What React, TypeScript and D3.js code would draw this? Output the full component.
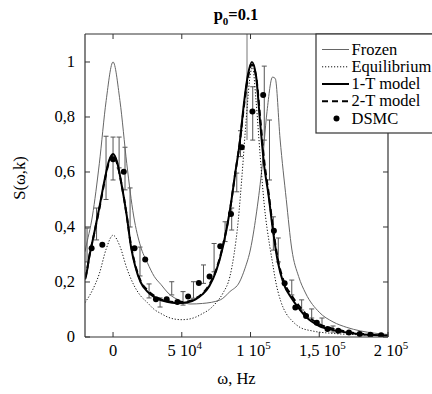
import React from "react";
import * as d3 from "d3";

// ---- data (x in Hz, y = S(omega,k)) ----
const frozenX = [-20400, -20000, -15000, -10000, -5000, 0, 5000, 10000, 15000, 20000, 25000, 30000, 35000, 40000, 50000, 56000, 65000, 78000, 85000, 92000, 96000, 100000, 104000, 108000, 112000, 116000, 118000, 121500, 126000, 130000, 135000, 140000, 150000, 160000, 170000, 180000, 190000, 200000];
const frozenY = [0.31, 0.32, 0.44, 0.63, 0.86, 1.0, 0.86, 0.63, 0.44, 0.33, 0.27, 0.22, 0.19, 0.16, 0.13, 0.12, 0.122, 0.135, 0.165, 0.2, 0.25, 0.32, 0.44, 0.6, 0.82, 0.945, 0.94, 0.72, 0.5, 0.32, 0.22, 0.16, 0.09, 0.055, 0.035, 0.022, 0.014, 0.009];

const equilX = [-20400, -20000, -15000, -10000, -5000, 0, 5000, 10000, 15000, 20000, 25000, 30000, 35000, 40000, 45000, 50000, 55000, 60000, 65000, 70000, 75000, 80000, 85000, 88000, 91000, 94000, 97000, 100000, 101500, 104000, 107000, 110000, 114000, 116000, 118000, 122000, 126000, 130000, 136000, 145000, 160000, 180000, 200000];
const equilY = [0.125, 0.128, 0.17, 0.23, 0.32, 0.37, 0.33, 0.25, 0.19, 0.15, 0.125, 0.1, 0.085, 0.072, 0.065, 0.063, 0.065, 0.072, 0.085, 0.1, 0.125, 0.16, 0.22, 0.3, 0.42, 0.6, 0.8, 0.96, 0.98, 0.86, 0.66, 0.48, 0.33, 0.27, 0.21, 0.13, 0.085, 0.06, 0.035, 0.022, 0.013, 0.008, 0.005];

const oneTX = [-20400, -20000, -17000, -14000, -10000, -6000, -3000, 0, 3000, 6000, 10000, 13000, 16000, 20000, 25000, 30000, 35000, 40000, 45000, 50000, 55000, 60000, 65000, 70000, 75000, 80000, 85000, 89000, 92000, 95000, 98000, 101000, 104000, 107000, 110000, 113000, 116000, 120000, 124000, 130000, 135000, 140000, 150000, 160000, 170000, 180000, 190000, 200000];
const oneTY = [0.21, 0.215, 0.3, 0.37, 0.47, 0.575, 0.64, 0.665, 0.635, 0.56, 0.44, 0.33, 0.26, 0.2, 0.165, 0.145, 0.133, 0.127, 0.124, 0.124, 0.127, 0.137, 0.155, 0.185, 0.24, 0.33, 0.46, 0.6, 0.7, 0.84, 0.95, 1.0, 0.95, 0.78, 0.62, 0.52, 0.4, 0.27, 0.195, 0.14, 0.105, 0.075, 0.04, 0.025, 0.016, 0.01, 0.007, 0.005];

const twoTX = [-20400, -20000, -17000, -14000, -10000, -6000, -3000, 0, 3000, 6000, 10000, 13000, 16000, 20000, 25000, 30000, 35000, 40000, 45000, 50000, 55000, 60000, 65000, 70000, 75000, 80000, 85000, 89000, 92000, 95000, 98000, 101000, 104000, 107000, 110000, 113000, 116000, 120000, 124000, 130000, 135000, 140000, 150000, 160000, 170000, 180000, 190000, 200000];
const twoTY = [0.215, 0.22, 0.3, 0.37, 0.465, 0.57, 0.635, 0.66, 0.63, 0.56, 0.44, 0.335, 0.265, 0.205, 0.17, 0.15, 0.137, 0.13, 0.127, 0.127, 0.13, 0.14, 0.158, 0.19, 0.245, 0.335, 0.46, 0.6, 0.7, 0.83, 0.94, 0.99, 0.95, 0.8, 0.64, 0.53, 0.41, 0.28, 0.205, 0.15, 0.115, 0.085, 0.047, 0.03, 0.019, 0.012, 0.008, 0.006];

const dsmcX = [-15600, -7800, 0, 7800, 15600, 23400, 31200, 39000, 46800, 54600, 62400, 70200, 78000, 85800, 93600, 101400, 109200, 117000, 124800, 132600, 140400, 148200, 156000, 163800, 171600, 179400, 187200, 195000];
const dsmcY = [0.323, 0.335, 0.646, 0.601, 0.323, 0.282, 0.137, 0.137, 0.127, 0.147, 0.196, 0.22, 0.33, 0.447, 0.69, 0.82, 0.88, 0.386, 0.195, 0.107, 0.076, 0.052, 0.029, 0.023, 0.016, 0.011, 0.008, 0.006];

const errX = [-18900, -12000, -5100, 0, 4400, 8700, 12400, 19600, 26200, 34200, 42700, 50900, 58500, 65800, 73500, 81500, 86300, 90000, 92700, 101600, 110000, 113800, 116600, 120200, 130000, 137200, 144500, 152000, 160000];
const errLo = [0.273, 0.353, 0.5, 0.571, 0.615, 0.535, 0.4, 0.222, 0.142, 0.109, 0.153, 0.116, 0.141, 0.195, 0.237, 0.347, 0.389, 0.528, 0.656, 0.716, 0.716, 0.571, 0.316, 0.273, 0.153, 0.098, 0.069, 0.04, 0.018];
const errHi = [0.396, 0.469, 0.73, 0.727, 0.727, 0.69, 0.542, 0.327, 0.193, 0.142, 0.201, 0.165, 0.201, 0.262, 0.34, 0.419, 0.469, 0.596, 0.75, 0.91, 0.985, 0.789, 0.437, 0.36, 0.207, 0.135, 0.102, 0.069, 0.04];

const yTicks = [0, 0.2, 0.4, 0.6, 0.8, 1];
const yTickLabels = ["0", "0,2", "0,4", "0,6", "0,8", "1"];
const xTicks = [0, 50000, 100000, 150000, 200000];
const xTickMain = ["0", "5 10", "1 10", "1,5 10", "2 10"];
const xTickExp = ["", "4", "5", "5", "5"];

const legendNames = ["Frozen", "Equilibrium", "1-T model", "2-T model", "DSMC"];

const FONT = "'Liberation Serif', 'Times New Roman', serif";

export default function App() {
  const W = 432, H = 394;
  const L = 85, R = 388, T = 34, B = 337;
  const x = d3.scaleLinear().domain([-20400, 200000]).range([L, R]);
  const y = d3.scaleLinear().domain([0, 1.1018]).range([B, T]);

  const mk = (xs: number[], ys: number[]) =>
    d3.line<number>().x((_, i) => x(xs[i])).y((_, i) => y(ys[i])).curve(d3.curveMonotoneX)(xs) || "";

  const frame = "#333";
  const legendRows = [49.5, 66.8, 84, 101.3, 118.5];
  const FS = 16.5;
  const ts = { fontFamily: FONT };

  return (
    <svg width={W} height={H} style={{ display: "block", position: "absolute", left: 0, top: 0, fontFamily: FONT }}>
      <rect x={0} y={0} width={W} height={H} fill="#fff" />
      <defs>
        <clipPath id="plotclip">
          <rect x={L} y={T} width={R - L} height={B - T} />
        </clipPath>
      </defs>

      <text x={236} y={20} textAnchor="middle" fontSize={16.5} fontWeight="bold" style={ts}>
        p<tspan fontSize={11} dy={5}>0</tspan><tspan dy={-5}>=0.1</tspan>
      </text>

      <g clipPath="url(#plotclip)">
        <line x1={247} x2={247} y1={T} y2={140} stroke="#777" strokeWidth={1} />
        {errX.map((v, i) => (
          <g key={"e" + i} stroke="#555" strokeWidth={1}>
            <line x1={x(v)} x2={x(v)} y1={y(errLo[i])} y2={y(errHi[i])} />
            <line x1={x(v) - 2.5} x2={x(v) + 2.5} y1={y(errLo[i])} y2={y(errLo[i])} />
            <line x1={x(v) - 2.5} x2={x(v) + 2.5} y1={y(errHi[i])} y2={y(errHi[i])} />
          </g>
        ))}
        <path d={mk(frozenX, frozenY)} fill="none" stroke="#666" strokeWidth={1} />
        <path d={mk(equilX, equilY)} fill="none" stroke="#111" strokeWidth={1} strokeDasharray="1.2,1.8" />
        <path d={mk(oneTX, oneTY)} fill="none" stroke="#000" strokeWidth={2} />
        <path d={mk(twoTX, twoTY)} fill="none" stroke="#000" strokeWidth={2} strokeDasharray="6,4" />
        {dsmcX.map((v, i) => (
          <circle key={"d" + i} cx={x(v)} cy={y(dsmcY[i])} r={3} fill="#000" />
        ))}
      </g>

      <line x1={L} x2={L} y1={T} y2={B} stroke={frame} strokeWidth={1.2} />
      <line x1={L} x2={R} y1={B} y2={B} stroke={frame} strokeWidth={1.2} />
      <line x1={R} x2={R} y1={T} y2={B} stroke={frame} strokeWidth={1.2} />
      <line x1={L} x2={W} y1={T} y2={T} stroke={frame} strokeWidth={1.2} />

      {yTicks.map((v, i) => (
        <g key={"y" + i}>
          <line x1={L} x2={L + 5} y1={y(v)} y2={y(v)} stroke={frame} />
          <line x1={R - 5} x2={R} y1={y(v)} y2={y(v)} stroke={frame} />
          <text x={L - 10} y={y(v) + 5} textAnchor="end" fontSize={FS} style={ts}>{yTickLabels[i]}</text>
        </g>
      ))}
      {xTicks.map((v, i) => (
        <g key={"x" + i}>
          <line x1={x(v)} x2={x(v)} y1={B} y2={B - 5} stroke={frame} />
          <line x1={x(v)} x2={x(v)} y1={T} y2={T + 5} stroke={frame} />
          <text x={x(v) + (xTickExp[i] ? 3 : 0)} y={356} textAnchor="middle" fontSize={FS} style={ts}>
            {xTickMain[i]}
            {xTickExp[i] ? <tspan fontSize={11} dy={-7}>{xTickExp[i]}</tspan> : null}
          </text>
        </g>
      ))}

      <text x={236.5} y={384} textAnchor="middle" fontSize={FS} style={ts}>ω, Hz</text>
      <text transform="translate(25,178) rotate(-90)" textAnchor="middle" fontSize={FS} style={ts}>S(ω,k)</text>

      <rect x={316} y={T} width={130} height={133 - T} fill="#fff" stroke={frame} strokeWidth={1.2} />
      {legendNames.map((n, i) => {
        const ly = legendRows[i];
        return (
          <g key={"l" + i}>
            {i === 0 && <line x1={322} x2={349} y1={ly} y2={ly} stroke="#666" strokeWidth={1} />}
            {i === 1 && <line x1={322} x2={349} y1={ly} y2={ly} stroke="#111" strokeWidth={1} strokeDasharray="1.2,1.8" />}
            {i === 2 && <line x1={322} x2={349} y1={ly} y2={ly} stroke="#000" strokeWidth={2} />}
            {i === 3 && <line x1={322} x2={349} y1={ly} y2={ly} stroke="#000" strokeWidth={2} strokeDasharray="6,4" />}
            {i === 4 && <circle cx={336.5} cy={ly} r={3} fill="#000" />}
            <text x={351.5} y={ly + 5} fontSize={FS} style={ts}>{n}</text>
          </g>
        );
      })}
    </svg>
  );
}
